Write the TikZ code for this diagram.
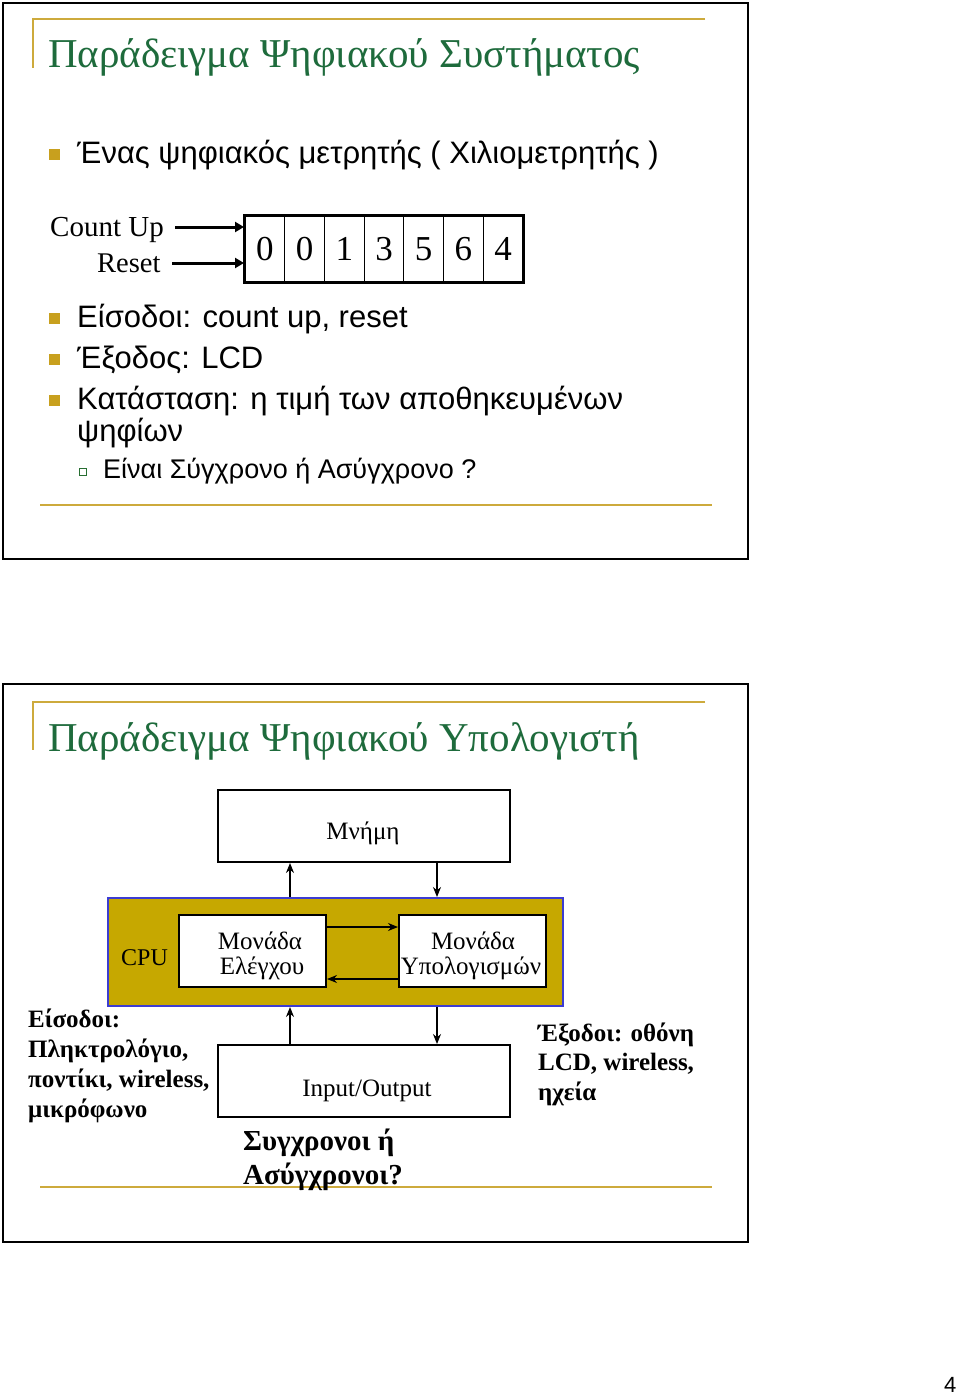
\documentclass[tikz,border=0pt]{standalone}
\usepackage{fontspec}
\setmainfont{Liberation Serif}
\newfontfamily\sansf{Liberation Sans}
\usetikzlibrary{arrows.meta}
\definecolor{titlegreen}{RGB}{30,107,60}
\definecolor{goldline}{RGB}{205,170,60}
\definecolor{bulletgold}{RGB}{200,160,30}
\definecolor{cpufill}{RGB}{198,168,0}
\definecolor{cpuborder}{RGB}{60,60,210}
\definecolor{subgreen}{RGB}{40,110,50}
\begin{document}
\begin{tikzpicture}[x=1pt,y=-1pt,
  txt/.style={inner sep=0pt,anchor=base west},
  ctxt/.style={inner sep=0pt,anchor=base},
  slidetitle/.style={txt,text=titlegreen,font=\fontsize{41}{46}\selectfont},
  bultext/.style={txt,font=\sansf\fontsize{31}{34}\selectfont},
  subtext/.style={txt,font=\sansf\fontsize{27}{30}\selectfont},
  bulsq/.style={fill=bulletgold},
  frame/.style={draw=black,line width=2pt},
  gold/.style={draw=goldline,line width=1.5pt},
  thickarrow/.style={line width=3pt,-{Triangle[length=9pt,width=10pt]}},
  thinarrow/.style={line width=1.1pt,-{Stealth[length=10pt,width=8pt]}},
  wbox/.style={draw=black,line width=2pt,fill=white,inner sep=0pt},
  diag/.style={font=\fontsize{25}{25}\selectfont},
  boldtxt/.style={txt,font=\bfseries\fontsize{25}{30}\selectfont},
  cell/.style={draw=black,line width=0.8pt,minimum width=39.714pt,minimum height=66pt,inner sep=0pt,font=\fontsize{35}{36}\selectfont}
]
\useasboundingbox (0,0) rectangle (960,1394);
\fill[white] (0,0) rectangle (960,1394);

% ---------- Slide 1 ----------
\draw[frame] (3,3) rectangle (748,559);
\draw[gold] (705,19) -- (33,19) -- (33,68);
\draw[gold] (40,505) -- (712,505);
\node[slidetitle] (t1) at (48,68) {Παράδειγμα Ψηφιακού Συστήματος};

\fill[bulsq] (49,149) rectangle (60,160);
\node[bultext] (b1) at (77,164) {Ένας ψηφιακός μετρητής ( Χιλιομετρητής )};

\node[txt,font=\fontsize{29}{30}\selectfont] (cu) at (50,236) {Count Up};
\node[txt,font=\fontsize{28.5}{30}\selectfont] (rs) at (97,272) {Reset};

\foreach \d [count=\i] in {0,0,1,3,5,6,4} {
  \node[cell] (d\i) at ({245+39.714*(\i-0.5)},249) {\d};
}
\draw[line width=3pt] (d1.north west) rectangle (d7.south east);
\coordinate (cuS) at (175,227);
\coordinate (rsS) at (172,263);
\coordinate (cuE) at (244,227);
\coordinate (rsE) at (244,263);
\draw[thickarrow] (cuS) -- (cuE);
\draw[thickarrow] (rsS) -- (rsE);

\fill[bulsq] (49,313) rectangle (60,324);
\node[bultext] (b2) at (77,327) {Είσοδοι: count up, reset};
\fill[bulsq] (49,354) rectangle (60,365);
\node[bultext] (b3) at (77,368) {Έξοδος: LCD};
\fill[bulsq] (49,395) rectangle (60,406);
\node[bultext] (b4) at (77,409) {Κατάσταση: η τιμή των αποθηκευμένων};
\node[bultext] (b4b) at (77,441) {ψηφίων};
\draw[draw=subgreen,line width=1pt] (79.5,468.5) rectangle (86.5,475.5);
\node[subtext] (s1) at (103,478) {Είναι Σύγχρονο ή Ασύγχρονο ?};

% ---------- Slide 2 ----------
\draw[frame] (3,684) rectangle (748,1242);
\draw[gold] (705,702) -- (33,702) -- (33,750);
\draw[gold] (40,1187) -- (712,1187);
\node[slidetitle] (t2) at (48,751) {Παράδειγμα Ψηφιακού Υπολογιστή};

\node[wbox,minimum width=292pt,minimum height=72pt] (mem) at (364,826) {};
\node[ctxt,diag] (meml) at (363,839) {Μνήμη};
\node[draw=cpuborder,line width=2pt,fill=cpufill,minimum width=455pt,minimum height=108pt,inner sep=0pt] (cpu) at (335.5,952) {};
\node[txt,font=\fontsize{24}{25}\selectfont] (cpul) at (121,965) {CPU};
\node[wbox,minimum width=147pt,minimum height=72pt] (ctl) at (252.5,951) {};
\node[ctxt,diag] (ctl1) at (260,949) {Μονάδα};
\node[ctxt,diag] (ctl2) at (262,974) {Ελέγχου};
\node[wbox,minimum width=147pt,minimum height=72pt] (alu) at (472.5,951) {};
\node[ctxt,diag] (alu1) at (473,949) {Μονάδα};
\node[ctxt,diag] (alu2) at (471,974) {Υπολογισμών};
\node[wbox,minimum width=292pt,minimum height=72pt] (io) at (364,1081) {};
\node[ctxt,diag] (iol) at (367,1096) {Input/Output};

\draw[thinarrow] (ctl.east |- 0,927) -- (alu.west |- 0,927);
\draw[thinarrow] (alu.west |- 0,979) -- (ctl.east |- 0,979);
\draw[thinarrow] (cpu.north -| 290,0) -- (mem.south -| 290,0);
\draw[thinarrow] (mem.south -| 437,0) -- (cpu.north -| 437,0);
\draw[thinarrow] (io.north -| 290,0) -- (cpu.south -| 290,0);
\draw[thinarrow] (cpu.south -| 437,0) -- (io.north -| 437,0);

\node[boldtxt] (in1) at (28,1027) {Είσοδοι:};
\node[boldtxt] (in2) at (28,1057) {Πληκτρολόγιο,};
\node[boldtxt] (in3) at (28,1087) {ποντίκι, wireless,};
\node[boldtxt] (in4) at (28,1117) {μικρόφωνο};

\node[boldtxt] (out1) at (538,1041) {Έξοδοι: οθόνη};
\node[boldtxt] (out2) at (538,1070) {LCD, wireless,};
\node[boldtxt] (out3) at (538,1100) {ηχεία};

\node[txt,font=\bfseries\fontsize{29}{30}\selectfont] (q1) at (243,1150) {Συγχρονοι ή};
\node[txt,font=\bfseries\fontsize{29}{30}\selectfont] (q2) at (243,1184) {Ασύγχρονοι?};

\node[txt,font=\sansf\fontsize{22}{24}\selectfont] (pg) at (944,1392) {4};
\end{tikzpicture}
\end{document}
